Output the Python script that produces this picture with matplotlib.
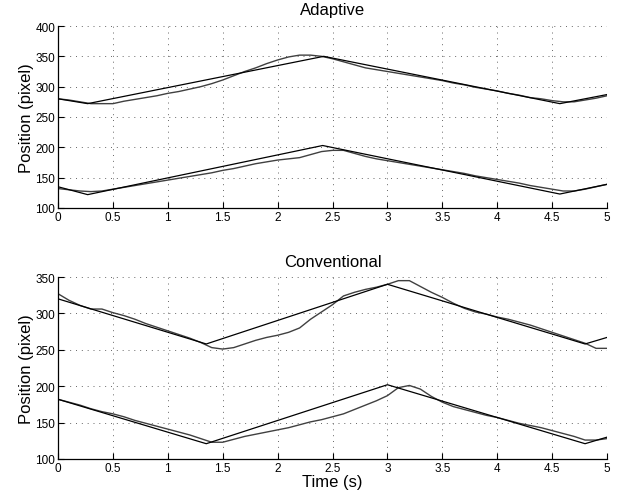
import matplotlib
matplotlib.use("Agg")
import matplotlib.pyplot as plt
import numpy as np

plt.rcParams['font.family'] = ['Liberation Sans', 'DejaVu Sans']

# sample times of the measured (tracked) positions, seconds
t_meas = [i / 10 for i in range(51)]

# --- Adaptive ---
ad_up_ref_t = [0.0, 0.27, 2.42, 4.57, 5.0]
ad_up_ref_y = [280, 272, 350, 272, 287]
ad_up_meas = [280, 278, 275, 272, 272, 272, 276, 279, 282, 285,
              289, 292, 296, 300, 305, 311, 318, 325, 331, 338,
              344, 349, 352, 352, 350, 346, 341, 336, 331, 328,
              325, 322, 319, 316, 313, 310, 306, 303, 299, 296,
              293, 289, 286, 282, 280, 277, 275, 275, 278, 281, 285]

ad_lo_ref_t = [0.0, 0.27, 2.41, 4.57, 5.0]
ad_lo_ref_y = [135, 122, 203, 123, 139]
ad_lo_meas = [132, 130, 128, 127, 128, 131, 134, 137, 140, 143,
              146, 149, 152, 155, 158, 162, 165, 169, 173, 176,
              179, 181, 183, 188, 193, 195, 195, 190, 185, 181,
              178, 175, 172, 169, 166, 163, 160, 157, 153, 150,
              147, 144, 141, 137, 134, 131, 128, 128, 131, 135, 139]

# --- Conventional ---
cv_up_ref_t = [0.0, 1.35, 3.0, 4.8, 5.0]
cv_up_ref_y = [320, 258, 340, 258, 267]
cv_up_meas = [327, 318, 311, 306, 306, 301, 297, 292, 286, 281,
              276, 271, 266, 260, 253, 251, 253, 258, 263, 267,
              270, 274, 280, 292, 302, 312, 324, 329, 333, 336,
              340, 345, 345, 337, 329, 322, 314, 307, 302, 299,
              295, 292, 288, 284, 279, 274, 269, 264, 259, 252, 252]

cv_lo_ref_t = [0.0, 1.35, 3.0, 4.8, 5.0]
cv_lo_ref_y = [182, 121, 202, 121, 130]
cv_lo_meas = [182, 178, 174, 169, 165, 162, 158, 153, 149, 145,
              141, 137, 133, 128, 123, 123, 127, 131, 134, 137,
              140, 143, 147, 151, 154, 158, 162, 168, 174, 180,
              187, 198, 201, 196, 186, 178, 172, 168, 164, 160,
              157, 153, 149, 146, 143, 139, 135, 131, 126, 126, 128]

x_ticks = [0, 0.5, 1, 1.5, 2, 2.5, 3, 3.5, 4, 4.5, 5]
x_labels = ['0', '0.5', '1', '1.5', '2', '2.5', '3', '3.5', '4', '4.5', '5']


def style_axes(ax, yticks):
    ax.set_xlim(0, 5)
    ax.set_ylim(yticks[0], yticks[-1])
    ax.set_xticks(x_ticks)
    ax.set_xticklabels(x_labels)
    ax.set_yticks(yticks)
    ax.spines['top'].set_visible(False)
    ax.spines['right'].set_visible(False)
    ax.spines['left'].set_linewidth(0.9)
    ax.spines['bottom'].set_linewidth(0.9)
    ax.tick_params(direction='in', length=4, width=0.8, labelsize=8.5, pad=2)
    ax.grid(True, linestyle=(0, (1, 5)), color='0.4', linewidth=0.7)
    ax.set_ylabel('Position (pixel)', fontsize=12, labelpad=1)


fig = plt.figure(figsize=(6.26, 5.02), dpi=100)
ax1 = fig.add_axes([0.0927, 0.5837, 0.877, 0.3625])
ax2 = fig.add_axes([0.0927, 0.0837, 0.877, 0.3625])

meas_kw = dict(color='0.25', linewidth=1.0)
ref_kw = dict(color='black', linewidth=0.9)

ax1.plot(t_meas, ad_up_meas, **meas_kw)
ax1.plot(t_meas, ad_lo_meas, **meas_kw)
ax1.plot(ad_up_ref_t, ad_up_ref_y, **ref_kw)
ax1.plot(ad_lo_ref_t, ad_lo_ref_y, **ref_kw)
style_axes(ax1, [100, 150, 200, 250, 300, 350, 400])
ax1.set_title('Adaptive', fontsize=12, pad=9)

ax2.plot(t_meas, cv_up_meas, **meas_kw)
ax2.plot(t_meas, cv_lo_meas, **meas_kw)
ax2.plot(cv_up_ref_t, cv_up_ref_y, **ref_kw)
ax2.plot(cv_lo_ref_t, cv_lo_ref_y, **ref_kw)
style_axes(ax2, [100, 150, 200, 250, 300, 350])
ax2.set_title('Conventional', fontsize=12, pad=8)
ax2.set_xlabel('Time (s)', fontsize=12, labelpad=0)

fig.savefig('out.png', dpi=100)
